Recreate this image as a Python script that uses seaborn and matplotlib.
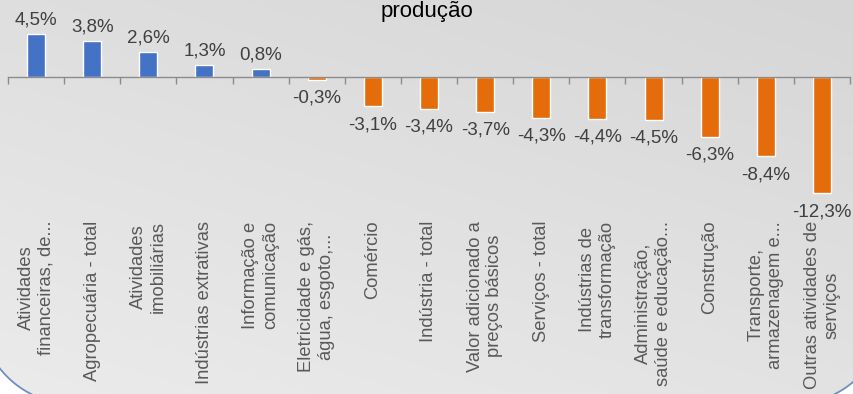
import numpy as np
import pandas as pd
import matplotlib
matplotlib.use("Agg")
import matplotlib.pyplot as plt
import seaborn as sns
from matplotlib.patches import Polygon

categories = [
    "Atividades\nfinanceiras, de...",
    "Agropecuária - total",
    "Atividades\nimobiliárias",
    "Indústrias extrativas",
    "Informação e\ncomunicação",
    "Eletricidade e gás,\nágua, esgoto,...",
    "Comércio",
    "Indústria - total",
    "Valor adicionado a\npreços básicos",
    "Serviços - total",
    "Indústrias de\ntransformação",
    "Administração,\nsaúde e educação...",
    "Construção",
    "Transporte,\narmazenagem e...",
    "Outras atividades de\nserviços",
]
values = [4.5, 3.8, 2.6, 1.3, 0.8, -0.3, -3.1, -3.4, -3.7, -4.3, -4.4, -4.5, -6.3, -8.4, -12.3]
title_text = "produção"

POS_COLOR = "#4472C4"
NEG_COLOR = "#E46C0A"

sns.set_theme(style="white")
plt.rcParams["font.family"] = ["Liberation Sans", "DejaVu Sans"]

W, H = 854, 394
fig = plt.figure(figsize=(W / 100, H / 100), dpi=100)
fig.patch.set_facecolor("white")

# background with rounded border and soft gradient (pixel coords, y up)
bg = fig.add_axes([0, 0, 1, 1], zorder=-5)
yy, xx = np.mgrid[0:1:200j, 0:1:200j]
grad = 0.6 * yy + 0.4 * xx
cmap = matplotlib.colors.LinearSegmentedColormap.from_list("g", ["#EBEBEB", "#D6D6D6"])
im = bg.imshow(grad, extent=[0, W, H, 0], cmap=cmap, aspect="auto",
               interpolation="bilinear", origin="upper")
bg.set_xlim(0, W)
bg.set_ylim(0, H)
bg.axis("off")


def rounded_rect(L, B, R, T, r, n=40):
    pts = []
    corners = [((R - r, B + r), -90, 0), ((R - r, T - r), 0, 90),
               ((L + r, T - r), 90, 180), ((L + r, B + r), 180, 270)]
    for (cx, cy), a0, a1 in corners:
        a = np.radians(np.linspace(a0, a1, n))
        pts.extend(zip(cx + r * np.cos(a), cy + r * np.sin(a)))
    return np.array(pts)


frame = Polygon(rounded_rect(-20, -10, W + 32, H + 200, 93), closed=True,
                facecolor="none", edgecolor="#6F8FC0", linewidth=1.3,
                transform=bg.transData)
bg.add_patch(frame)
im.set_clip_path(frame)

df = pd.DataFrame({"cat": categories, "val": values})
colors = [POS_COLOR if v >= 0 else NEG_COLOR for v in values]

left = 8 / W
width = 842 / W
bottom = (H - 200) / H
height = 194 / H
ax = fig.add_axes([left, bottom, width, height])
ax.set_facecolor("none")
sns.barplot(data=df, x="cat", y="val", hue="cat", palette=colors, legend=False,
            width=0.32, ax=ax, saturation=1)
ymin, ymax = -13.0, 7.5
ax.set_ylim(ymin, ymax)
ax.set_xlim(-0.5, len(categories) - 0.5)
for s in ax.spines.values():
    s.set_visible(False)
ax.set_yticks([])
ax.set_xlabel("")
ax.set_ylabel("")
ax.tick_params(axis="x", length=0, pad=15, labelsize=13.2, labelcolor="#595959")
plt.setp(ax.get_xticklabels(), rotation=90, ha="center", va="top", multialignment="center")

for i, v in enumerate(values):
    txt = f"{v:.1f}%".replace(".", ",")
    if v >= 0:
        ax.annotate(txt, (i, v), xytext=(0, 4), textcoords="offset points",
                    ha="center", va="bottom", fontsize=13.5, color="#404040")
    else:
        ax.annotate(txt, (i, v), xytext=(0, -7), textcoords="offset points",
                    ha="center", va="top", fontsize=13.5, color="#404040")

# zero axis line with category-boundary tick marks
ax0 = fig.add_axes([left, bottom, width, height], zorder=3)
ax0.set_facecolor("none")
ax0.set_xlim(ax.get_xlim())
ax0.set_ylim(ax.get_ylim())
for k, s in ax0.spines.items():
    s.set_visible(k == "bottom")
ax0.spines["bottom"].set_position(("data", 0))
ax0.spines["bottom"].set_color("#8C8C8C")
ax0.spines["bottom"].set_linewidth(1.0)
ax0.set_xticks(np.arange(-0.5, len(categories), 1.0))
ax0.set_xticklabels([])
ax0.set_yticks([])
ax0.tick_params(axis="x", direction="out", length=5, width=1.0, color="#8C8C8C", bottom=True)

fig.text(0.5, 1 - 1 / H, title_text, ha="center", va="top", fontsize=16, color="#000000")

fig.savefig("out.png", dpi=100)
